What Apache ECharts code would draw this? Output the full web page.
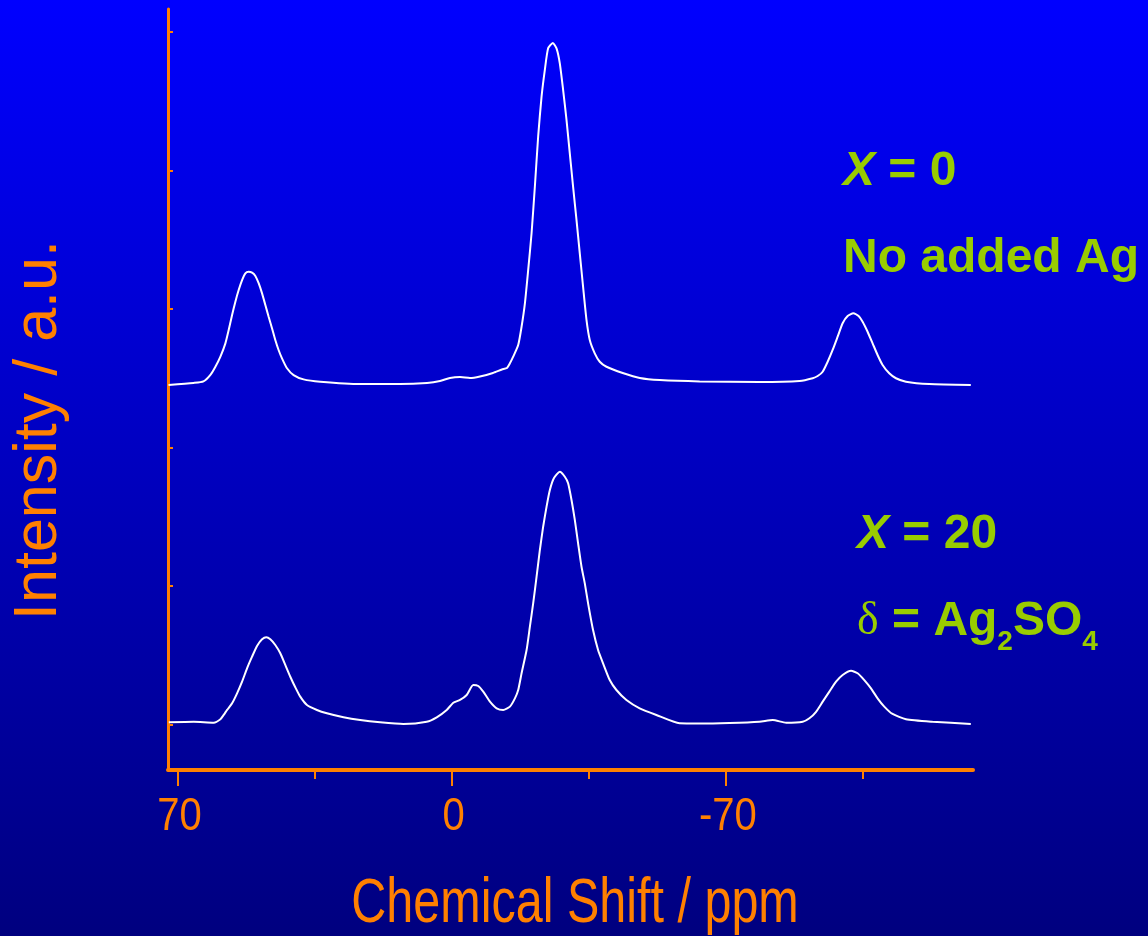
<!DOCTYPE html>
<html>
<head>
<meta charset="utf-8">
<title>Chemical Shift spectra</title>
<script src="https://cdn.jsdelivr.net/npm/echarts@6/dist/echarts.min.js"></script>
<style>
  html, body { margin: 0; padding: 0; background: #00007F; }
  #chart { width: 1148px; height: 936px; }
</style>
</head>
<body>
<div id="chart"></div>
<script>
// Spectrum X = 0 (no added Ag): chemical shift (ppm) and intensity (a.u.)
const topShift = [72.27, 65.90, 63.35, 61.57, 60.30, 59.02, 57.75, 56.91, 56.04, 55.20, 54.36, 53.49, 52.65, 51.81, 50.94, 50.10, 49.26, 48.39, 47.55, 46.71, 45.85, 45.01, 44.17, 43.30, 42.02, 40.34, 37.79, 33.54, 23.34, 13.15, 6.27, 2.96, 0.41, -2.14, -4.69, -7.24, -10.55, -12.84, -14.12, -14.88, -15.72, -17.00, -17.86, -18.71, -19.55, -20.41, -21.25, -22.09, -22.96, -23.80, -24.64, -25.84, -26.78, -27.62, -28.47, -29.33, -30.17, -31.01, -31.88, -32.72, -33.56, -34.43, -35.27, -36.54, -37.82, -39.53, -43.68, -48.04, -53.13, -63.33, -78.62, -88.81, -92.18, -93.45, -94.72, -96.00, -97.27, -98.55, -99.82, -101.10, -102.55, -103.90, -104.92, -106.19, -107.47, -108.74, -110.02, -111.72, -113.43, -115.98, -121.92, -132.54];
const topIntensity = [2.451, 2.466, 2.477, 2.524, 2.583, 2.656, 2.752, 2.848, 2.957, 3.053, 3.137, 3.209, 3.258, 3.269, 3.262, 3.238, 3.186, 3.113, 3.029, 2.944, 2.861, 2.776, 2.704, 2.644, 2.572, 2.523, 2.492, 2.475, 2.458, 2.458, 2.466, 2.480, 2.502, 2.509, 2.502, 2.513, 2.538, 2.563, 2.574, 2.608, 2.656, 2.740, 2.872, 3.041, 3.282, 3.547, 3.883, 4.244, 4.533, 4.726, 4.882, 4.921, 4.882, 4.774, 4.581, 4.365, 4.124, 3.883, 3.643, 3.402, 3.161, 2.921, 2.776, 2.680, 2.619, 2.583, 2.538, 2.502, 2.487, 2.477, 2.473, 2.480, 2.500, 2.516, 2.547, 2.619, 2.704, 2.800, 2.897, 2.949, 2.969, 2.949, 2.908, 2.836, 2.752, 2.668, 2.596, 2.536, 2.500, 2.475, 2.458, 2.451];

// Spectrum X = 20 (delta = Ag2SO4)
const bottomShift = [72.20, 65.83, 60.73, 59.02, 58.18, 57.31, 56.04, 54.77, 53.49, 52.22, 50.94, 49.67, 48.39, 47.30, 46.28, 45.01, 43.73, 42.46, 41.18, 39.91, 38.64, 36.93, 34.38, 31.83, 27.60, 23.34, 18.25, 12.31, 6.35, 3.80, 1.25, -0.43, -2.14, -3.85, -5.53, -6.80, -8.08, -9.79, -11.49, -13.18, -14.88, -16.16, -17.00, -17.86, -19.14, -19.98, -20.82, -21.69, -22.53, -23.37, -24.24, -25.08, -26.10, -27.63, -28.90, -29.74, -30.61, -31.45, -32.29, -33.16, -34.00, -34.84, -36.11, -37.39, -38.66, -40.37, -42.07, -44.62, -48.01, -52.27, -58.21, -63.30, -70.95, -78.59, -81.98, -85.40, -89.63, -91.34, -93.04, -94.73, -96.43, -98.14, -99.82, -101.96, -103.64, -105.35, -107.06, -108.74, -110.45, -112.56, -115.98, -122.76, -132.54];
const bottomIntensity = [0.016, 0.020, 0.013, 0.038, 0.069, 0.105, 0.153, 0.225, 0.309, 0.406, 0.490, 0.567, 0.615, 0.630, 0.615, 0.574, 0.514, 0.430, 0.345, 0.269, 0.201, 0.141, 0.105, 0.081, 0.052, 0.032, 0.016, 0.004, 0.020, 0.052, 0.105, 0.157, 0.177, 0.213, 0.285, 0.278, 0.237, 0.165, 0.117, 0.105, 0.129, 0.189, 0.249, 0.370, 0.538, 0.706, 0.875, 1.067, 1.260, 1.428, 1.573, 1.693, 1.778, 1.825, 1.789, 1.742, 1.621, 1.477, 1.308, 1.139, 1.019, 0.875, 0.682, 0.538, 0.442, 0.321, 0.249, 0.177, 0.117, 0.069, 0.009, 0.007, 0.011, 0.020, 0.032, 0.013, 0.020, 0.045, 0.092, 0.165, 0.237, 0.309, 0.357, 0.388, 0.370, 0.321, 0.261, 0.189, 0.129, 0.076, 0.038, 0.020, 0.004];

// Axis ticks
const xMajorTicks = [70, 0, -70];
const xMinorTicks = [35, -35, -105];
const yTicks = [0, 1, 2, 3, 4, 5];

const ORANGE = '#FF8000';
const GREEN = '#99CC00';
const SANS = '"Liberation Sans", Arial, sans-serif';
const SERIF = '"Liberation Serif", "DejaVu Serif", serif';
const MIDDLE_TO_BASELINE = 0.3465;   // canvas 'middle' -> alphabetic baseline, in em

const zip = (xs, ys) => xs.map((x, i) => [x, ys[i]]);

// Text measuring for laying out multi-style labels on a common baseline
const measureCtx = document.createElement('canvas').getContext('2d');
function fontStr(f) {
  return (f.style || 'normal') + ' ' + (f.weight || 'normal') + ' ' + f.size + 'px ' + f.family;
}
function textRun(x0, baseline, parts) {
  const els = [];
  let x = x0;
  parts.forEach(p => {
    const f = p.font;
    measureCtx.font = fontStr(f);
    const w = measureCtx.measureText(p.text).width;
    els.push({
      type: 'text',
      x: x,
      y: baseline + (p.dy || 0) - MIDDLE_TO_BASELINE * f.size,
      silent: true,
      style: {
        text: p.text,
        fill: p.color || GREEN,
        font: fontStr(f),
        align: 'left',
        verticalAlign: 'middle'
      }
    });
    x += w;
  });
  return els;
}

const bold48 = { weight: 'bold', size: 48, family: SANS };
const boldItalic48 = { style: 'italic', weight: 'bold', size: 48, family: SANS };
const bold28 = { weight: 'bold', size: 28, family: SANS };
const serif46 = { size: 46, family: SERIF };

const annotations = [].concat(
  textRun(843, 188, [
    { text: 'X', font: boldItalic48 },
    { text: ' = 0', font: bold48 }
  ]),
  textRun(843, 275, [
    { text: 'No added Ag', font: bold48 }
  ]),
  textRun(857, 551, [
    { text: 'X', font: boldItalic48 },
    { text: ' = 20', font: bold48 }
  ]),
  textRun(857, 638, [
    { text: '\u03B4', font: serif46 },
    { text: ' = Ag', font: bold48 },
    { text: '2', font: bold28, dy: 14 },
    { text: 'SO', font: bold48 },
    { text: '4', font: bold28, dy: 14 }
  ])
);

const chart = echarts.init(document.getElementById('chart'), null, { renderer: 'canvas' });

const xRange = { min: -133.1, max: 72.4 };

const baseGraphics = [
  {
    type: 'rect',
    z: -100,
    silent: true,
    shape: { x: 0, y: 0, width: 1148, height: 936 },
    style: {
      fill: new echarts.graphic.LinearGradient(0, 0, 0, 1, [
        { offset: 0, color: '#0000FF' },
        { offset: 1, color: '#00007F' }
      ])
    }
  },
  {
    // y axis title
    type: 'text',
    x: 39,
    y: 430,
    rotation: Math.PI / 2,
    silent: true,
    style: {
      text: 'Intensity / a.u.',
      fill: ORANGE,
      font: 'normal 61px ' + SANS,
      align: 'center',
      verticalAlign: 'middle'
    }
  },
  {
    // x axis title, condensed
    type: 'text',
    x: 575,
    y: 926 - MIDDLE_TO_BASELINE * 63,
    scaleX: 0.77,
    silent: true,
    style: {
      text: 'Chemical Shift / ppm',
      fill: ORANGE,
      font: 'normal 63px ' + SANS,
      align: 'center',
      verticalAlign: 'middle'
    }
  }
].concat(annotations);

const option = {
  animation: false,
  backgroundColor: 'transparent',
  grid: { left: 168, right: 175, top: 9, bottom: 166 },
  xAxis: [
    {
      type: 'value',
      inverse: true,
      min: xRange.min,
      max: xRange.max,
      position: 'bottom',
      splitLine: { show: false },
      axisLine: { show: true, onZero: false, lineStyle: { color: ORANGE, width: 4 } },
      axisTick: { show: true, customValues: xMajorTicks, length: 16, lineStyle: { color: ORANGE, width: 2 } },
      axisLabel: { show: false }
    },
    {
      type: 'value',
      inverse: true,
      min: xRange.min,
      max: xRange.max,
      position: 'bottom',
      splitLine: { show: false },
      axisLine: { show: false, onZero: false },
      axisTick: { show: true, customValues: xMinorTicks, length: 9, lineStyle: { color: ORANGE, width: 2 } },
      axisLabel: { show: false }
    }
  ],
  yAxis: {
    type: 'value',
    min: -0.3285,
    max: 5.166,
    splitLine: { show: false },
    axisLine: { show: true, onZero: false, lineStyle: { color: ORANGE, width: 3 } },
    axisTick: { show: true, inside: true, customValues: yTicks, length: 5, lineStyle: { color: ORANGE, width: 2 } },
    axisLabel: { show: false }
  },
  graphic: baseGraphics,
  series: [
    {
      name: 'X = 0',
      type: 'line',
      xAxisIndex: 0,
      data: zip(topShift, topIntensity),
      showSymbol: false,
      smooth: 0.2,
      lineStyle: { color: '#FFFFFF', width: 2 },
      z: 5
    },
    {
      name: 'X = 20',
      type: 'line',
      xAxisIndex: 0,
      data: zip(bottomShift, bottomIntensity),
      showSymbol: false,
      smooth: 0.2,
      lineStyle: { color: '#FFFFFF', width: 2 },
      z: 5
    }
  ]
};

chart.setOption(option);

// Condensed tick labels, placed at the tick positions given by the x axis scale
const labelSize = 46;
const tickLabels = xMajorTicks.map(v => {
  const px = chart.convertToPixel({ xAxisIndex: 0 }, v);
  return {
    type: 'text',
    x: px + 2,
    y: 833 - MIDDLE_TO_BASELINE * labelSize,
    scaleX: 0.87,
    silent: true,
    style: {
      text: String(v),
      fill: ORANGE,
      font: 'normal ' + labelSize + 'px ' + SANS,
      align: 'center',
      verticalAlign: 'middle'
    }
  };
});
chart.setOption({ graphic: baseGraphics.concat(tickLabels) });
</script>
</body>
</html>
